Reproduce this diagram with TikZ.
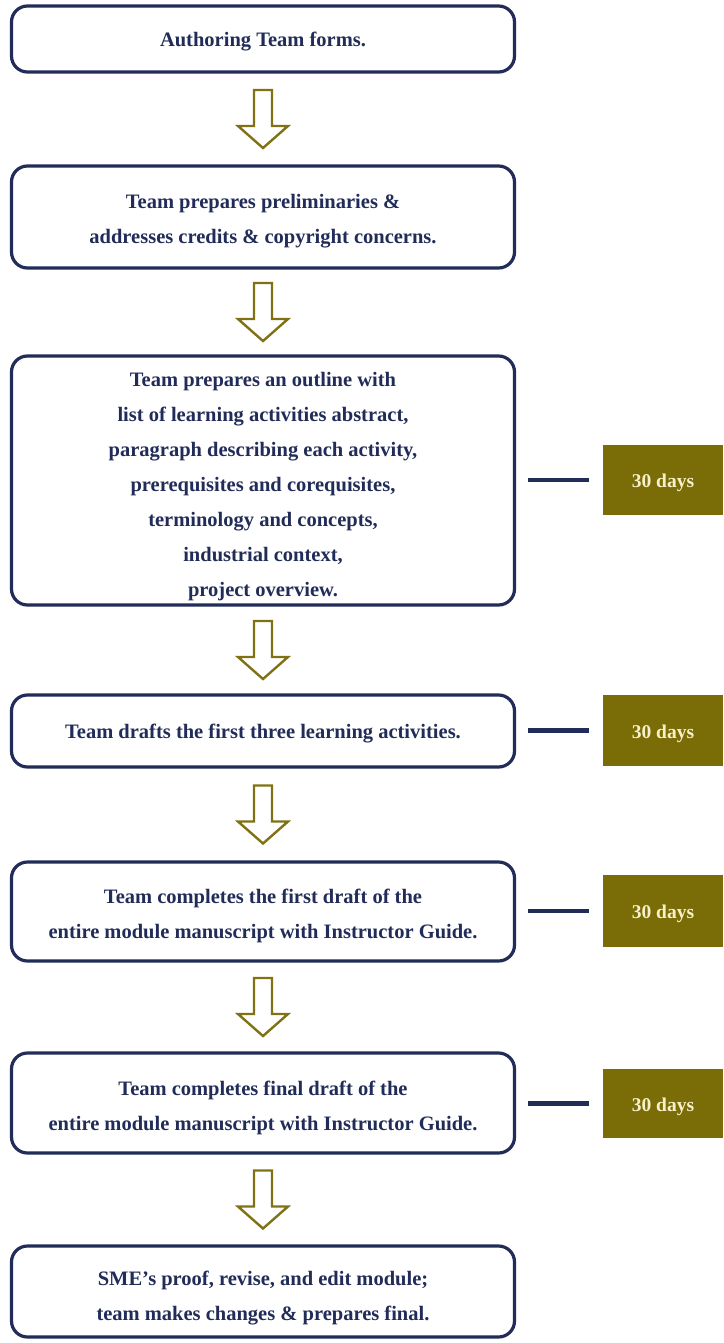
\documentclass[tikz,border=0pt]{standalone}
\usepackage{fontspec}
\setmainfont{Liberation Serif}
\usetikzlibrary{calc}
\definecolor{navy}{RGB}{33,44,88}
\definecolor{olivebox}{RGB}{122,108,6}
\definecolor{olivearrow}{RGB}{128,114,20}
\definecolor{cream}{RGB}{248,240,200}
\newcommand{\tup}[1]{\rule{0pt}{#1pt}}
\tikzset{
  stepbox/.style={draw=navy, line width=3.2pt, rounded corners=16pt, minimum width=503pt,
    align=center, text=navy, font=\fontsize{20.5}{35}\selectfont\bfseries, inner sep=0pt, fill=white},
  daysbox/.style={fill=olivebox, minimum width=120pt, text=cream,
    font=\fontsize{19.5}{24}\selectfont\bfseries, inner sep=0pt},
  tick/.style={draw=navy, line width=4.5pt},
  flow/.style={draw=olivearrow, line width=2.4pt, fill=white, line join=miter},
}
\newcommand{\flowdown}[3]{%
  \path ($(#1.south)!0.5!(#2.north)$) coordinate (#3);
  \draw[flow] ([shift={(-9,-29)}]#3) -- ([shift={(9,-29)}]#3) -- ([shift={(9,7)}]#3)
    -- ([shift={(25,7)}]#3) -- ([shift={(0,29)}]#3) -- ([shift={(-25,7)}]#3)
    -- ([shift={(-9,7)}]#3) -- cycle;}
\begin{document}
\begin{tikzpicture}[x=1pt,y=-1pt]
\useasboundingbox (0,0) rectangle (723,1343);
\fill[white] (0,0) rectangle (723,1343);

\node[stepbox, minimum height=66pt] (b1) at (263,39) {\tup{20}Authoring Team forms.};
\node[stepbox, minimum height=102pt] (b2) at (263,217) {\tup{22}Team prepares preliminaries \&\\addresses credits \& copyright concerns.};
\node[stepbox, minimum height=249pt] (b3) at (263,480.5) {\tup{26}Team prepares an outline with\\list of learning activities abstract,\\paragraph describing each activity,\\prerequisites and corequisites,\\terminology and concepts,\\industrial context,\\project overview.};
\node[stepbox, minimum height=72pt] (b4) at (263,731) {\tup{20}Team drafts the first three learning activities.};
\node[stepbox, minimum height=99pt] (b5) at (263,911.5) {\tup{24}Team completes the first draft of the\\entire module manuscript with Instructor Guide.};
\node[stepbox, minimum height=100pt] (b6) at (263,1103) {\tup{24}Team completes final draft of the\\entire module manuscript with Instructor Guide.};
\node[stepbox, minimum height=91pt] (b7) at (263,1291.5) {\tup{28}SME’s proof, revise, and edit module;\\team makes changes \& prepares final.};

\node[daysbox, minimum height=70pt] (d1) at (663,480) {\tup{20}30 days};
\node[daysbox, minimum height=71pt] (d2) at (663,730.5) {\tup{20}30 days};
\node[daysbox, minimum height=72pt] (d3) at (663,911) {\tup{20}30 days};
\node[daysbox, minimum height=69pt] (d4) at (663,1103.5) {\tup{20}30 days};

\draw[tick] ([xshift=12pt]b3.east |- d1.west) -- ([xshift=-14pt]d1.west);
\draw[tick] ([xshift=12pt]b4.east |- d2.west) -- ([xshift=-14pt]d2.west);
\draw[tick] ([xshift=12pt]b5.east |- d3.west) -- ([xshift=-14pt]d3.west);
\draw[tick] ([xshift=12pt]b6.east |- d4.west) -- ([xshift=-14pt]d4.west);

\flowdown{b1}{b2}{a1}
\flowdown{b2}{b3}{a2}
\flowdown{b3}{b4}{a3}
\flowdown{b4}{b5}{a4}
\flowdown{b5}{b6}{a5}
\flowdown{b6}{b7}{a6}
\end{tikzpicture}
\end{document}
